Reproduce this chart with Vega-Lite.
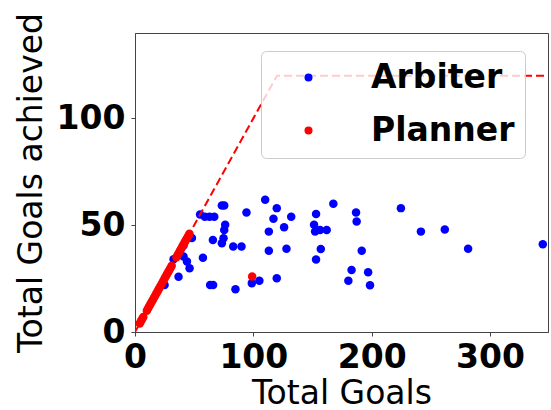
{
  "$schema": "https://vega.github.io/schema/vega-lite/v6.json",
  "autosize": "none",
  "width": 413,
  "height": 299,
  "padding": {"left": 135, "top": 33, "right": 3, "bottom": 78},
  "background": "white",
  "config": {
    "font": "DejaVu Sans",
    "view": {"stroke": "#444444", "strokeWidth": 1}
  },
  "datasets": {
    "pts": [
      {"goals": 25, "achieved": 22, "planner": "Arbiter"},
      {"goals": 32.6, "achieved": 34.1, "planner": "Arbiter"},
      {"goals": 36.8, "achieved": 25.9, "planner": "Arbiter"},
      {"goals": 41, "achieved": 40.5, "planner": "Arbiter"},
      {"goals": 41, "achieved": 35.3, "planner": "Arbiter"},
      {"goals": 43.9, "achieved": 33, "planner": "Arbiter"},
      {"goals": 46.1, "achieved": 29.9, "planner": "Arbiter"},
      {"goals": 48.1, "achieved": 44, "planner": "Arbiter"},
      {"goals": 55, "achieved": 55, "planner": "Arbiter"},
      {"goals": 59, "achieved": 54, "planner": "Arbiter"},
      {"goals": 63, "achieved": 54, "planner": "Arbiter"},
      {"goals": 67, "achieved": 54, "planner": "Arbiter"},
      {"goals": 57.4, "achieved": 34.8, "planner": "Arbiter"},
      {"goals": 63.5, "achieved": 22, "planner": "Arbiter"},
      {"goals": 66, "achieved": 22, "planner": "Arbiter"},
      {"goals": 65.8, "achieved": 43.1, "planner": "Arbiter"},
      {"goals": 73.4, "achieved": 41.6, "planner": "Arbiter"},
      {"goals": 74.8, "achieved": 43.9, "planner": "Arbiter"},
      {"goals": 75.4, "achieved": 47.8, "planner": "Arbiter"},
      {"goals": 76.2, "achieved": 50.2, "planner": "Arbiter"},
      {"goals": 73.4, "achieved": 59.2, "planner": "Arbiter"},
      {"goals": 75.4, "achieved": 59.2, "planner": "Arbiter"},
      {"goals": 83, "achieved": 40, "planner": "Arbiter"},
      {"goals": 90, "achieved": 40, "planner": "Arbiter"},
      {"goals": 84.9, "achieved": 20, "planner": "Arbiter"},
      {"goals": 94.2, "achieved": 56, "planner": "Arbiter"},
      {"goals": 98.7, "achieved": 22.8, "planner": "Arbiter"},
      {"goals": 105.1, "achieved": 24, "planner": "Arbiter"},
      {"goals": 110, "achieved": 61.9, "planner": "Arbiter"},
      {"goals": 113.1, "achieved": 47, "planner": "Arbiter"},
      {"goals": 113.1, "achieved": 38, "planner": "Arbiter"},
      {"goals": 117, "achieved": 53, "planner": "Arbiter"},
      {"goals": 119.8, "achieved": 58, "planner": "Arbiter"},
      {"goals": 119.8, "achieved": 25.2, "planner": "Arbiter"},
      {"goals": 126, "achieved": 49.1, "planner": "Arbiter"},
      {"goals": 128, "achieved": 39, "planner": "Arbiter"},
      {"goals": 132, "achieved": 54, "planner": "Arbiter"},
      {"goals": 153, "achieved": 55.2, "planner": "Arbiter"},
      {"goals": 151.3, "achieved": 50.2, "planner": "Arbiter"},
      {"goals": 152.2, "achieved": 47, "planner": "Arbiter"},
      {"goals": 156.4, "achieved": 47.8, "planner": "Arbiter"},
      {"goals": 162, "achieved": 47.8, "planner": "Arbiter"},
      {"goals": 157, "achieved": 38.9, "planner": "Arbiter"},
      {"goals": 153, "achieved": 34, "planner": "Arbiter"},
      {"goals": 167.6, "achieved": 60, "planner": "Arbiter"},
      {"goals": 186.8, "achieved": 56, "planner": "Arbiter"},
      {"goals": 187.3, "achieved": 51.7, "planner": "Arbiter"},
      {"goals": 191.6, "achieved": 38, "planner": "Arbiter"},
      {"goals": 183, "achieved": 29, "planner": "Arbiter"},
      {"goals": 197, "achieved": 28, "planner": "Arbiter"},
      {"goals": 180.3, "achieved": 24, "planner": "Arbiter"},
      {"goals": 198.6, "achieved": 21.9, "planner": "Arbiter"},
      {"goals": 224.7, "achieved": 58, "planner": "Arbiter"},
      {"goals": 241.6, "achieved": 47, "planner": "Arbiter"},
      {"goals": 261.8, "achieved": 48, "planner": "Arbiter"},
      {"goals": 281.5, "achieved": 39, "planner": "Arbiter"},
      {"goals": 344.6, "achieved": 41.1, "planner": "Arbiter"},
      {"goals": 4, "achieved": 4, "planner": "Planner"},
      {"goals": 5, "achieved": 5, "planner": "Planner"},
      {"goals": 6, "achieved": 6, "planner": "Planner"},
      {"goals": 7, "achieved": 7, "planner": "Planner"},
      {"goals": 10, "achieved": 10, "planner": "Planner"},
      {"goals": 11, "achieved": 11, "planner": "Planner"},
      {"goals": 12, "achieved": 12, "planner": "Planner"},
      {"goals": 13, "achieved": 13, "planner": "Planner"},
      {"goals": 14, "achieved": 14, "planner": "Planner"},
      {"goals": 15, "achieved": 15, "planner": "Planner"},
      {"goals": 16, "achieved": 16, "planner": "Planner"},
      {"goals": 17, "achieved": 17, "planner": "Planner"},
      {"goals": 18, "achieved": 18, "planner": "Planner"},
      {"goals": 19, "achieved": 19, "planner": "Planner"},
      {"goals": 20, "achieved": 20, "planner": "Planner"},
      {"goals": 21, "achieved": 21, "planner": "Planner"},
      {"goals": 22, "achieved": 22, "planner": "Planner"},
      {"goals": 23, "achieved": 23, "planner": "Planner"},
      {"goals": 24, "achieved": 24, "planner": "Planner"},
      {"goals": 25, "achieved": 25, "planner": "Planner"},
      {"goals": 26, "achieved": 26, "planner": "Planner"},
      {"goals": 27, "achieved": 27, "planner": "Planner"},
      {"goals": 28, "achieved": 28, "planner": "Planner"},
      {"goals": 29, "achieved": 29, "planner": "Planner"},
      {"goals": 30, "achieved": 30, "planner": "Planner"},
      {"goals": 31, "achieved": 31, "planner": "Planner"},
      {"goals": 35, "achieved": 35, "planner": "Planner"},
      {"goals": 36, "achieved": 36, "planner": "Planner"},
      {"goals": 37, "achieved": 37, "planner": "Planner"},
      {"goals": 38, "achieved": 38, "planner": "Planner"},
      {"goals": 39, "achieved": 39, "planner": "Planner"},
      {"goals": 40, "achieved": 40, "planner": "Planner"},
      {"goals": 41, "achieved": 41, "planner": "Planner"},
      {"goals": 42, "achieved": 42, "planner": "Planner"},
      {"goals": 43, "achieved": 43, "planner": "Planner"},
      {"goals": 44, "achieved": 44, "planner": "Planner"},
      {"goals": 45, "achieved": 45, "planner": "Planner"},
      {"goals": 46, "achieved": 46, "planner": "Planner"},
      {"goals": 99, "achieved": 26, "planner": "Planner"}
    ],
    "bound": [
      {"goals": 0, "achieved": 0},
      {"goals": 120, "achieved": 120},
      {"goals": 350, "achieved": 120}
    ]
  },
  "layer": [
    {
      "data": {"name": "pts"},
      "mark": {"type": "point", "filled": true, "opacity": 1, "size": 72, "shape": "circle"},
      "encoding": {
        "x": {
          "field": "goals", "type": "quantitative",
          "scale": {"domain": [0, 349], "nice": false, "zero": false},
          "axis": {
            "title": "Total Goals", "values": [0, 100, 200, 300], "grid": false,
            "domainColor": "#444444", "tickColor": "#444444", "tickSize": 4,
            "labelPadding": 5, "labelFont": "DejaVu Sans", "labelFontSize": 33, "labelFontWeight": "bold",
            "labelColor": "black", "labelFlush": false,
            "titleFont": "DejaVu Sans", "titleFontSize": 33, "titleFontWeight": "normal", "titleColor": "black",
            "titlePadding": 3
          }
        },
        "y": {
          "field": "achieved", "type": "quantitative",
          "scale": {"domain": [0, 140], "nice": false, "zero": false},
          "axis": {
            "title": "Total Goals achieved", "values": [0, 50, 100], "grid": false,
            "domainColor": "#444444", "tickColor": "#444444", "tickSize": 4,
            "labelPadding": 6, "labelFont": "DejaVu Sans", "labelFontSize": 33, "labelFontWeight": "bold",
            "labelColor": "black", "labelFlush": false,
            "titleFont": "DejaVu Sans", "titleFontSize": 33, "titleFontWeight": "normal", "titleColor": "black",
            "titlePadding": 8
          }
        },
        "color": {
          "field": "planner", "type": "nominal",
          "scale": {"domain": ["Arbiter", "Planner"], "range": ["#0000ff", "#ff0000"]},
          "legend": {
            "title": null, "orient": "none", "legendX": 126, "legendY": 18,
            "padding": 10, "symbolOffset": 21, "symbolSize": 64, "symbolType": "circle",
            "labelOffset": 46, "labelFont": "DejaVu Sans", "labelFontSize": 33, "labelFontWeight": "bold",
            "labelColor": "black", "rowPadding": 19, "labelLimit": 400,
            "labelExpr": "datum.label + '   '",
            "strokeColor": "#cccccc", "fillColor": "rgba(255,255,255,0.8)", "cornerRadius": 5
          }
        }
      }
    },
    {
      "data": {"name": "bound"},
      "mark": {"type": "line", "color": "#ff0000", "strokeWidth": 2, "strokeDash": [8, 4], "clip": true},
      "encoding": {
        "x": {"field": "goals", "type": "quantitative"},
        "y": {"field": "achieved", "type": "quantitative"}
      }
    }
  ]
}
